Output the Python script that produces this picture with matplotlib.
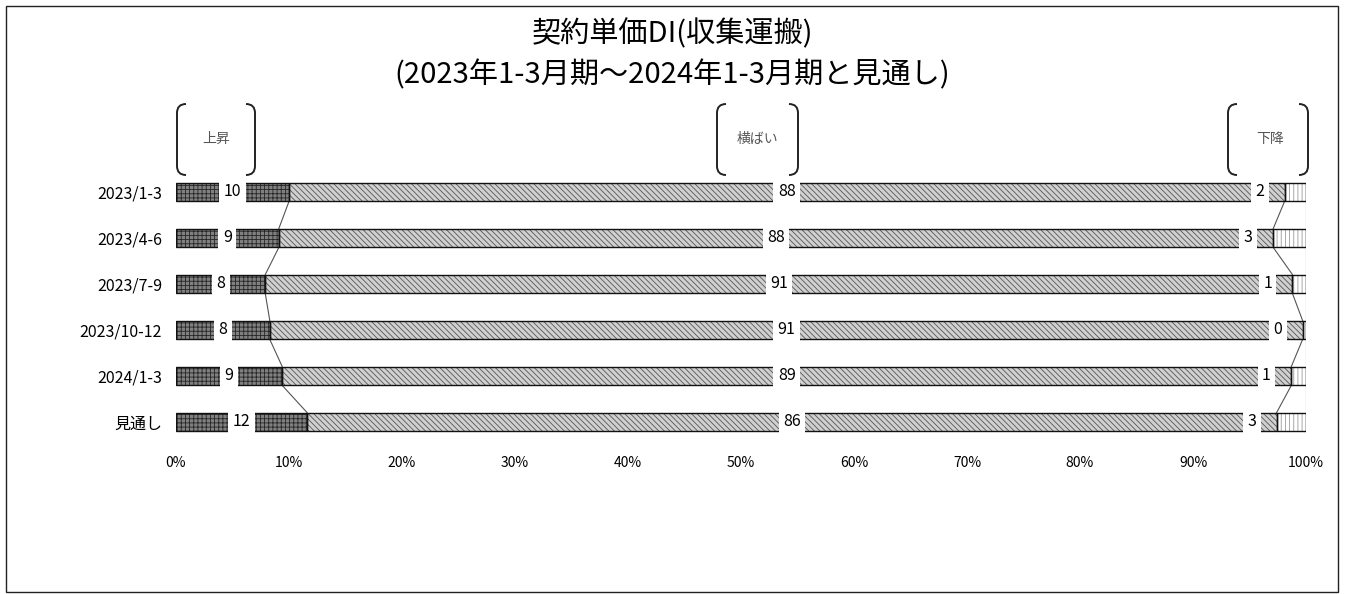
import numpy as np
import matplotlib
matplotlib.use("Agg")
import matplotlib.pyplot as plt
from matplotlib.path import Path
from matplotlib.patches import PathPatch, Rectangle

plt.rcParams['font.family'] = ['Noto Sans CJK JP', 'DejaVu Sans']
plt.rcParams['hatch.linewidth'] = 0.6

# データ(%)
periods = ["2023/1-3", "2023/4-6", "2023/7-9", "2023/10-12", "2024/1-3", "見通し"]
up = [10.0, 9.1, 7.9, 8.3, 9.4, 11.6]
flat = [88.1, 88.0, 90.9, 91.4, 89.3, 85.8]
down = [1.9, 2.9, 1.2, 0.3, 1.3, 2.6]
series_names = ["上昇", "横ばい", "下降"]
xticks = [0, 10, 20, 30, 40, 50, 60, 70, 80, 90, 100]

W, H = 1345, 594
fig = plt.figure(figsize=(W / 100, H / 100), dpi=100)

# 外枠・括弧用のピクセル座標レイヤー
ov = fig.add_axes([0, 0, 1, 1])
ov.set_xlim(0, W)
ov.set_ylim(H, 0)
ov.axis('off')
ov.add_patch(Rectangle((6, 6), 1332, 586, fill=False, edgecolor='#222222', lw=1.0))

ax = fig.add_axes([176 / W, 1 - 445 / H, 1130 / W, 276 / H])
ax.patch.set_alpha(0)

y = np.arange(len(periods))
up_a = np.array(up)
flat_a = np.array(flat)
down_a = np.array(down)
h = 0.41

styles = [
    dict(fc='#808080', hc='#262626', hatch='++++'),
    dict(fc='#d0d0d0', hc='#555555', hatch='\\\\\\\\\\\\'),
    dict(fc='#ffffff', hc='#9a9a9a', hatch='||||'),
]
lefts = [np.zeros(len(y)), up_a, up_a + flat_a]
for vals, left, st in zip([up_a, flat_a, down_a], lefts, styles):
    ax.barh(y, vals, left=left, height=h, color=st['fc'], edgecolor=st['hc'],
            hatch=st['hatch'], linewidth=0, zorder=2)
    ax.barh(y, vals, left=left, height=h, fill=False, edgecolor='#111111',
            linewidth=1.0, zorder=3)

# 区分線
for cum in [up_a, up_a + flat_a, up_a + flat_a + down_a]:
    for i in range(len(y) - 1):
        ax.plot([cum[i], cum[i + 1]], [y[i] + h / 2, y[i + 1] - h / 2],
                color='#555555', lw=0.8, zorder=1)

# データラベル
box = dict(boxstyle='square,pad=0.28', fc='white', ec='none')
for i in range(len(y)):
    ax.text(up_a[i] / 2, y[i], f"{round(up_a[i]):d}", ha='center', va='center',
            fontsize=11.5, bbox=box, zorder=5)
    ax.text(up_a[i] + flat_a[i] / 2, y[i], f"{round(flat_a[i]):d}", ha='center',
            va='center', fontsize=11.5, bbox=box, zorder=5)
    ax.text(up_a[i] + flat_a[i] - 2.2, y[i], f"{round(down_a[i]):d}", ha='center',
            va='center', fontsize=11.5, bbox=box, zorder=5)

ax.set_xlim(0, 100)
ax.set_ylim(len(y) - 0.5, -0.5)
ax.set_yticks(y)
ax.set_yticklabels(periods, fontsize=11.5)
ax.set_xticks(xticks)
ax.set_xticklabels([f"{t}%" for t in xticks], fontsize=10)
ax.tick_params(length=0, pad=8)
ax.tick_params(axis='y', pad=10)
for s in ax.spines.values():
    s.set_visible(False)

# タイトル
fig.text(0.5, 1 - 34 / H, "契約単価DI(収集運搬)", ha='center', va='center', fontsize=21)
fig.text(0.5, 1 - 75 / H, "(2023年1-3月期～2024年1-3月期と見通し)", ha='center',
         va='center', fontsize=21)


# 凡例(括弧付き)
def bracket(x0, x1, y0, y1, r=9):
    lv = [(x0 + r, y0), (x0, y0), (x0, y0 + r), (x0, y1 - r), (x0, y1), (x0 + r, y1)]
    rv = [(x1 - r, y0), (x1, y0), (x1, y0 + r), (x1, y1 - r), (x1, y1), (x1 - r, y1)]
    codes = [Path.MOVETO, Path.CURVE3, Path.CURVE3, Path.LINETO, Path.CURVE3, Path.CURVE3]
    for v in (lv, rv):
        ov.add_patch(PathPatch(Path(v, codes), fill=False, edgecolor='#222222', lw=1.4))


legend_pos = [(177, 255, 216), (717, 798, 757), (1228, 1308, 1270)]
for name, (x0, x1, xc) in zip(series_names, legend_pos):
    bracket(x0, x1, 104, 175)
    ov.text(xc, 139, name, ha='center', va='center', fontsize=10, color='#555555')

fig.savefig("out.png", dpi=100)
